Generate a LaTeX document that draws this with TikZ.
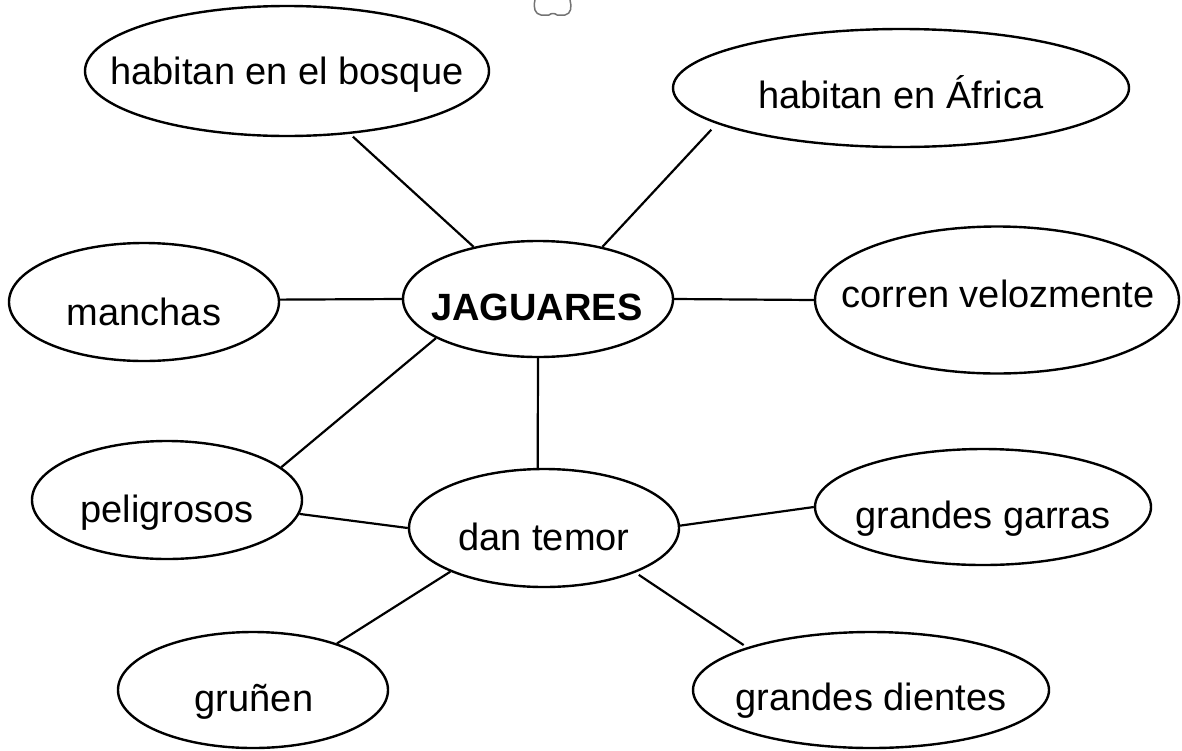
\documentclass[tikz,border=0pt]{standalone}
\usepackage{fontspec}
\setmainfont{Liberation Sans}
\usetikzlibrary{shapes.geometric}

\begin{document}
\begin{tikzpicture}[x=1pt, y=-1pt,
		blob/.style={draw, ellipse, line width=2.4pt, inner sep=0pt, fill=white},
		word/.style={anchor=base, inner sep=0pt, font=\fontsize{38}{40}\selectfont},
		link/.style={line width=2.2pt}]
		%%%%% START %%%%%
		\useasboundingbox[fill=white] (0, 0) rectangle (1182, 750);
		
		\draw[line width=1.5pt, black!55, line join=round] (535, 0) .. controls (533, 8) and (535, 14) .. (541, 15) -- (549, 15) .. controls (551, 13) and (555, 13) .. (557, 15) -- (565, 15) .. controls (571, 14) and (572, 7) .. (570, 0);
		
		\node[blob, minimum width=404, minimum height=130] (bosque) at (287, 71) {};
		\node[word] (tbosque) at (287, 84) {habitan en el bosque};
		
		\node[blob, minimum width=456, minimum height=118] (africa) at (901, 88) {};
		\node[word] (tafrica) at (901, 108) {habitan en África};
		
		\node[blob, minimum width=270, minimum height=118] (manchas) at (144, 302) {};
		\node[word] (tmanchas) at (144, 325) {manchas};
		
		\node[blob, minimum width=270, minimum height=116] (jag) at (538, 299) {};
		\node[word, font=\fontsize{38}{40}\selectfont\bfseries] (tjag) at (537, 320) {JAGUARES};
		
		\node[blob, minimum width=364, minimum height=147] (corren) at (997, 300) {};
		\node[word] (tcorren) at (998, 307) {corren velozmente};
		
		\node[blob, minimum width=270, minimum height=118] (pelig) at (167, 500) {};
		\node[word] (tpelig) at (167, 522) {peligrosos};
		
		\node[blob, minimum width=270, minimum height=118] (dan) at (544, 528) {};
		\node[word] (tdan) at (544, 550) {dan temor};
		
		\node[blob, minimum width=336, minimum height=116] (garras) at (983, 507) {};
		\node[word] (tgarras) at (983, 528) {grandes garras};
		
		\node[blob, minimum width=270, minimum height=116] (grunen) at (253, 690) {};
		\node[word] (tgrunen) at (254, 711) {gruñen};
		
		\node[blob, minimum width=356, minimum height=116] (dientes) at (871, 690) {};
		\node[word] (tdientes) at (871, 710) {grandes dientes};
		
		\draw[link, shorten <=4pt] (bosque.-45) -- (jag.141);
		\draw[link, shorten <=8pt] (africa.191) -- (jag.39);
		\draw[link] (manchas.1) -- (jag.180);
		\draw[link] (jag.0) -- (corren.180);
		\draw[link] (jag.201) -- (pelig.16);
		\draw[link] (jag.south) -- (dan.96);
		\draw[link] (pelig.-6) -- (dan.180);
		\draw[link] (dan.1) -- (garras.180);
		\draw[link] (dan.205) -- (grunen.29);
		\draw[link, shorten <=4pt, shorten >=4pt] (dan.-26) -- (dientes.161);
		%%%%% END %%%%%
	\end{tikzpicture}
\end{document}
